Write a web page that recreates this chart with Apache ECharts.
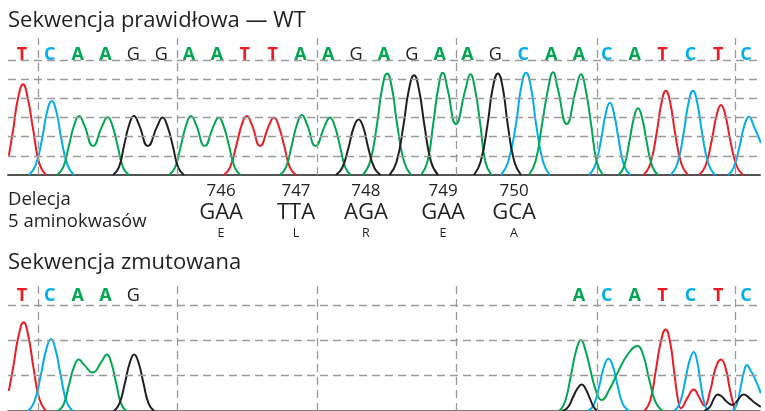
<!DOCTYPE html>
<html><head><meta charset="utf-8">
<script src="https://cdn.jsdelivr.net/npm/echarts@6/dist/echarts.min.js"></script>
<style>html,body{margin:0;padding:0;background:#fff}#c{width:765px;height:411px}</style>
</head><body><div id="c"></div>
<script>
// ---------- DATA ----------
const wtBases = 'TCAAGGAATTAAGAGAAGCAACATCTC'.split('');
const mutBases = ['T','C','A','A','G','','','','','','','','','','','','','','','','A','C','A','T','C','T','C'];

// Wild-type traces: groups of [base position, signal]
const wtT = [
  [[-0.47,1.0],[-0.31,2.4],[-0.14,4.0],[0.04,4.73],[0.21,4.0],[0.4,2.4],[0.62,0.62],[0.86,0]],
  [[7.25,0],[7.47,0.4],[7.7,1.55],[7.9,2.65],[8.07,3.08],[8.26,2.6],[8.55,1.51],[8.86,2.55],[9.05,3.0],[9.22,2.55],[9.42,1.5],[9.62,0.4],[9.84,0]],
  [[22.33,0],[22.56,0.57],[22.79,2.2],[22.96,3.74],[23.12,4.4],[23.28,3.74],[23.45,2.2],[23.68,0.57],[23.91,0]],
  [[24.31,0],[24.54,0.47],[24.77,1.83],[24.94,3.1],[25.1,3.65],[25.26,3.1],[25.43,1.83],[25.66,0.47],[25.89,0]]
];
const wtC = [
  [[0.25,0],[0.49,0.5],[0.73,1.93],[0.9,3.28],[1.07,3.86],[1.24,3.28],[1.41,1.93],[1.64,0.5],[1.87,0]],
  [[17.2,0],[17.46,0.69],[17.74,2.67],[17.92,4.54],[18.1,5.34],[18.28,4.54],[18.46,2.67],[18.71,0.69],[18.95,0]],
  [[20.36,0],[20.58,0.49],[20.8,1.89],[20.96,3.2],[21.11,3.77],[21.26,3.2],[21.42,1.89],[21.62,0.49],[21.84,0]],
  [[23.3,0],[23.53,0.57],[23.76,2.2],[23.93,3.74],[24.09,4.4],[24.25,3.74],[24.42,2.2],[24.65,0.57],[24.88,0]],
  [[25.35,0],[25.56,0.4],[25.77,1.52],[25.94,2.58],[26.1,3.04],[26.27,2.58],[26.53,1.67]]
];
const wtA = [
  [[1.26,0],[1.48,0.4],[1.69,1.55],[1.88,2.62],[2.05,3.08],[2.24,2.6],[2.55,1.51],[2.88,2.55],[3.08,3.01],[3.25,2.56],[3.44,1.5],[3.63,0.4],[3.84,0]],
  [[5.28,0],[5.5,0.4],[5.71,1.55],[5.9,2.62],[6.07,3.08],[6.26,2.6],[6.56,1.51],[6.88,2.55],[7.07,3.0],[7.24,2.56],[7.44,1.5],[7.64,0.4],[7.85,0]],
  [[9.26,0],[9.48,0.4],[9.69,1.57],[9.88,2.66],[10.05,3.13],[10.24,2.62],[10.54,1.51],[10.87,2.55],[11.06,3.0],[11.23,2.56],[11.42,1.5],[11.61,0.4],[11.81,0]],
  [[12.24,0],[12.5,0.69],[12.75,2.65],[12.93,4.5],[13.11,5.3],[13.29,4.5],[13.47,2.65],[13.72,0.69],[13.97,0]],
  [[14.33,0],[14.56,0.69],[14.77,2.7],[14.95,4.54],[15.11,5.34],[15.28,4.5],[15.58,2.66],[15.92,4.45],[16.1,5.25],[16.27,4.46],[16.46,2.6],[16.64,0.68],[16.86,0]],
  [[18.2,0],[18.44,0.7],[18.68,2.7],[18.9,4.56],[19.07,5.36],[19.24,4.5],[19.56,2.66],[19.89,4.45],[20.07,5.25],[20.24,4.46],[20.44,2.6],[20.64,0.68],[20.86,0]],
  [[21.42,0],[21.62,0.45],[21.81,1.74],[21.97,2.96],[22.12,3.48],[22.27,2.96],[22.43,1.74],[22.63,0.45],[22.84,0]]
];
const wtG = [
  [[3.27,0],[3.48,0.4],[3.67,1.55],[3.85,2.62],[4.02,3.08],[4.21,2.6],[4.52,1.51],[4.86,2.55],[5.05,3.0],[5.22,2.56],[5.42,1.5],[5.61,0.4],[5.82,0]],
  [[11.27,0],[11.5,0.38],[11.73,1.45],[11.91,2.47],[12.09,2.9],[12.26,2.47],[12.43,1.45],[12.65,0.38],[12.88,0]],
  [[13.2,0],[13.45,0.68],[13.7,2.6],[13.89,4.42],[14.08,5.2],[14.26,4.42],[14.45,2.6],[14.69,0.68],[14.94,0]],
  [[16.23,0],[16.47,0.69],[16.72,2.65],[16.9,4.5],[17.09,5.3],[17.27,4.5],[17.44,2.65],[17.68,0.69],[17.92,0]]
];

// Mutant traces
const mutT = [
  [[-0.47,0.57],[-0.3,1.3],[-0.12,2.13],[0.06,2.51],[0.23,2.13],[0.41,1.25],[0.63,0.33],[0.86,0]],
  [[22.35,0],[22.56,0.3],[22.76,1.15],[22.94,1.96],[23.11,2.31],[23.27,1.96],[23.42,1.1],[23.56,0.3],[23.66,0.08],[23.9,0.38],[24.12,0.61],[24.32,0.38],[24.5,0.15],[24.72,0.6],[24.9,1.2],[25.1,1.46],[25.27,1.2],[25.42,0.6],[25.6,0]]
];
const mutC = [
  [[0.22,0],[0.45,0.27],[0.68,1.02],[0.87,1.73],[1.04,2.04],[1.21,1.73],[1.39,1.02],[1.6,0.27],[1.82,0]],
  [[20.33,0],[20.54,0.19],[20.74,0.74],[20.9,1.26],[21.06,1.48],[21.22,1.26],[21.38,0.74],[21.58,0.19],[21.8,0]],
  [[23.42,0],[23.62,0.22],[23.81,0.84],[23.97,1.42],[24.12,1.67],[24.24,1.42],[24.36,0.84],[24.5,0.22],[24.64,0]],
  [[25.5,0],[25.66,0.17],[25.8,0.65],[25.92,1.1],[26.03,1.3],[26.16,1.15],[26.3,0.95],[26.53,0.5]]
];
const mutA = [
  [[1.3,0],[1.5,0.19],[1.69,0.74],[1.87,1.25],[2.04,1.46],[2.22,1.32],[2.54,1.09],[2.86,1.4],[3.05,1.6],[3.21,1.36],[3.38,0.8],[3.56,0.21],[3.75,0]],
  [[19.3,0],[19.5,0.26],[19.71,1.0],[19.9,1.71],[20.07,2.01],[20.24,1.7],[20.43,1.1],[20.62,0.55],[20.81,0.31],[21.1,0.62],[21.39,1.09],[21.75,1.6],[22.1,1.84],[22.3,1.6],[22.52,0.9],[22.75,0.25],[23.0,0]]
];
const mutG = [
  [[3.3,0],[3.5,0.21],[3.7,0.8],[3.87,1.36],[4.03,1.6],[4.19,1.36],[4.36,0.8],[4.55,0.21],[4.75,0]],
  [[19.4,0],[19.6,0.1],[19.78,0.38],[19.95,0.64],[20.1,0.75],[20.23,0.64],[20.38,0.38],[20.54,0.1],[20.7,0]],
  [[24.5,0],[24.7,0.12],[24.84,0.34],[24.98,0.47],[25.12,0.42],[25.3,0.27],[25.52,0.17],[25.72,0.33],[25.91,0.47],[26.1,0.38],[26.3,0.24],[26.53,0.12]]
];

// Deleted codons
const codonNumbers = ['746','747','748','749','750'];
const codons = ['GAA','TTA','AGA','GAA','GCA'];
const aminoAcids = ['E','L','R','E','A'];
const codonPositions = [7.15, 9.84, 12.35, 15.12, 17.67];

// Grid lines
const gridXLines = [0.6, 5.56, 10.62, 15.6, 20.66, 25.62];
const wtGridY = [1,2,3,4,5,6];
const mutGridY = [1,2,3];

// ---------- CHART ----------
const FONT = '"Open Sans", "Noto Sans", sans-serif';
const TXT = '#231f20';
const COL = {A:'#00a651', C:'#00aeef', T:'#ed1c24', G:'#231f20'};
const chart = echarts.init(document.getElementById('c'), null, {renderer:'canvas'});

function traceSeries(groups, color, ax) {
  return groups.map(g => ({
    type:'line', xAxisIndex:ax, yAxisIndex:ax/2|0, data:g, smooth:0.5,
    symbol:'none', silent:true, z:3, clip:true,
    lineStyle:{color:color, width:2}
  }));
}
function gridSeries(ax, yLines) {
  return {
    type:'line', xAxisIndex:ax, yAxisIndex:ax/2|0, data:[], z:1, silent:true,
    markLine:{
      silent:true, symbol:['none','none'], label:{show:false}, animation:false,
      lineStyle:{type:[8,5], color:'#9a9a9a', width:1.3},
      data:[...yLines.map(v=>({yAxis:v})), ...gridXLines.map(v=>({xAxis:v}))]
    }
  };
}
const rich = {};
['A','C','T'].forEach(k => rich[k] = {color:COL[k], fontWeight:'bold', fontSize:18, fontFamily:FONT, lineHeight:18});
rich.G = {color:COL.G, fontWeight:'normal', fontSize:18, fontFamily:FONT, lineHeight:18};

function valueX(grid, lineShow) {
  return {gridIndex:grid, type:'value', min:-0.5, max:26.5, axisLabel:{show:false}, axisTick:{show:false},
    splitLine:{show:false}, axisLine:{show:lineShow, onZero:false, lineStyle:{color:'#4a4a4a', width:1.6}}};
}
function letterX(grid, data, margin) {
  return {gridIndex:grid, type:'category', position:'top', data:data, boundaryGap:true,
    axisTick:{show:false}, splitLine:{show:false},
    axisLine:{show:true, lineStyle:{color:'#4a4a4a', width:1.6}},
    axisLabel:{inside:true, interval:0, margin:margin, formatter:v => v ? '{'+v+'|'+v+'}' : '', rich:rich}};
}

const option = {
  animation:false,
  grid:[
    {left:8, right:5, top:38, height:137},
    {left:8, right:5, top:281, height:133.6},
    {left:8, right:5, top:180, height:64}
  ],
  xAxis:[
    valueX(0, true), letterX(0, wtBases, 7.5),
    valueX(1, false), letterX(1, mutBases, 6),
    Object.assign(valueX(2, false), {show:false})
  ],
  yAxis:[
    {gridIndex:0, type:'value', min:0, max:7.147, show:false},
    {gridIndex:1, type:'value', min:0, max:3.68, show:false},
    {gridIndex:2, type:'value', min:0, max:1, show:false}
  ],
  graphic:[
    {type:'text', left:8, top:10, style:{text:'Sekwencja prawidłowa — WT', font:'500 22px '+FONT, fill:TXT}},
    {type:'text', left:8, top:252, style:{text:'Sekwencja zmutowana', font:'500 22px '+FONT, fill:TXT}},
    {type:'text', left:8, top:188, style:{text:'Delecja\n5 aminokwasów', font:'500 18.5px '+FONT, lineHeight:22.5, fill:TXT}}
  ],
  series:[
    gridSeries(0, wtGridY),
    gridSeries(2, mutGridY),
    ...traceSeries(wtT, COL.T, 0), ...traceSeries(wtC, COL.C, 0),
    ...traceSeries(wtA, COL.A, 0), ...traceSeries(wtG, COL.G, 0),
    ...traceSeries(mutT, COL.T, 2), ...traceSeries(mutC, COL.C, 2),
    ...traceSeries(mutA, COL.A, 2), ...traceSeries(mutG, COL.G, 2),
    {
      type:'scatter', xAxisIndex:4, yAxisIndex:2, symbolSize:0, silent:true,
      itemStyle:{opacity:1},
      data: codonPositions.map((p,i)=>[p,0.5,i]),
      label:{show:true, position:'inside', fontFamily:FONT, color:TXT, opacity:1,
        formatter: p => '{n|'+codonNumbers[p.data[2]]+'}\n{c|'+codons[p.data[2]]+'}\n{a|'+aminoAcids[p.data[2]]+'}',
        rich:{
          n:{fontSize:17, fontWeight:500, lineHeight:21, fontFamily:FONT, color:TXT, align:'center'},
          c:{fontSize:22, fontWeight:500, lineHeight:21, fontFamily:FONT, color:TXT, align:'center'},
          a:{fontSize:12.5, fontWeight:500, lineHeight:20.5, fontFamily:FONT, color:TXT, align:'center'}
        }}
    }
  ]
};
chart.setOption(option);
</script>
</body></html>
